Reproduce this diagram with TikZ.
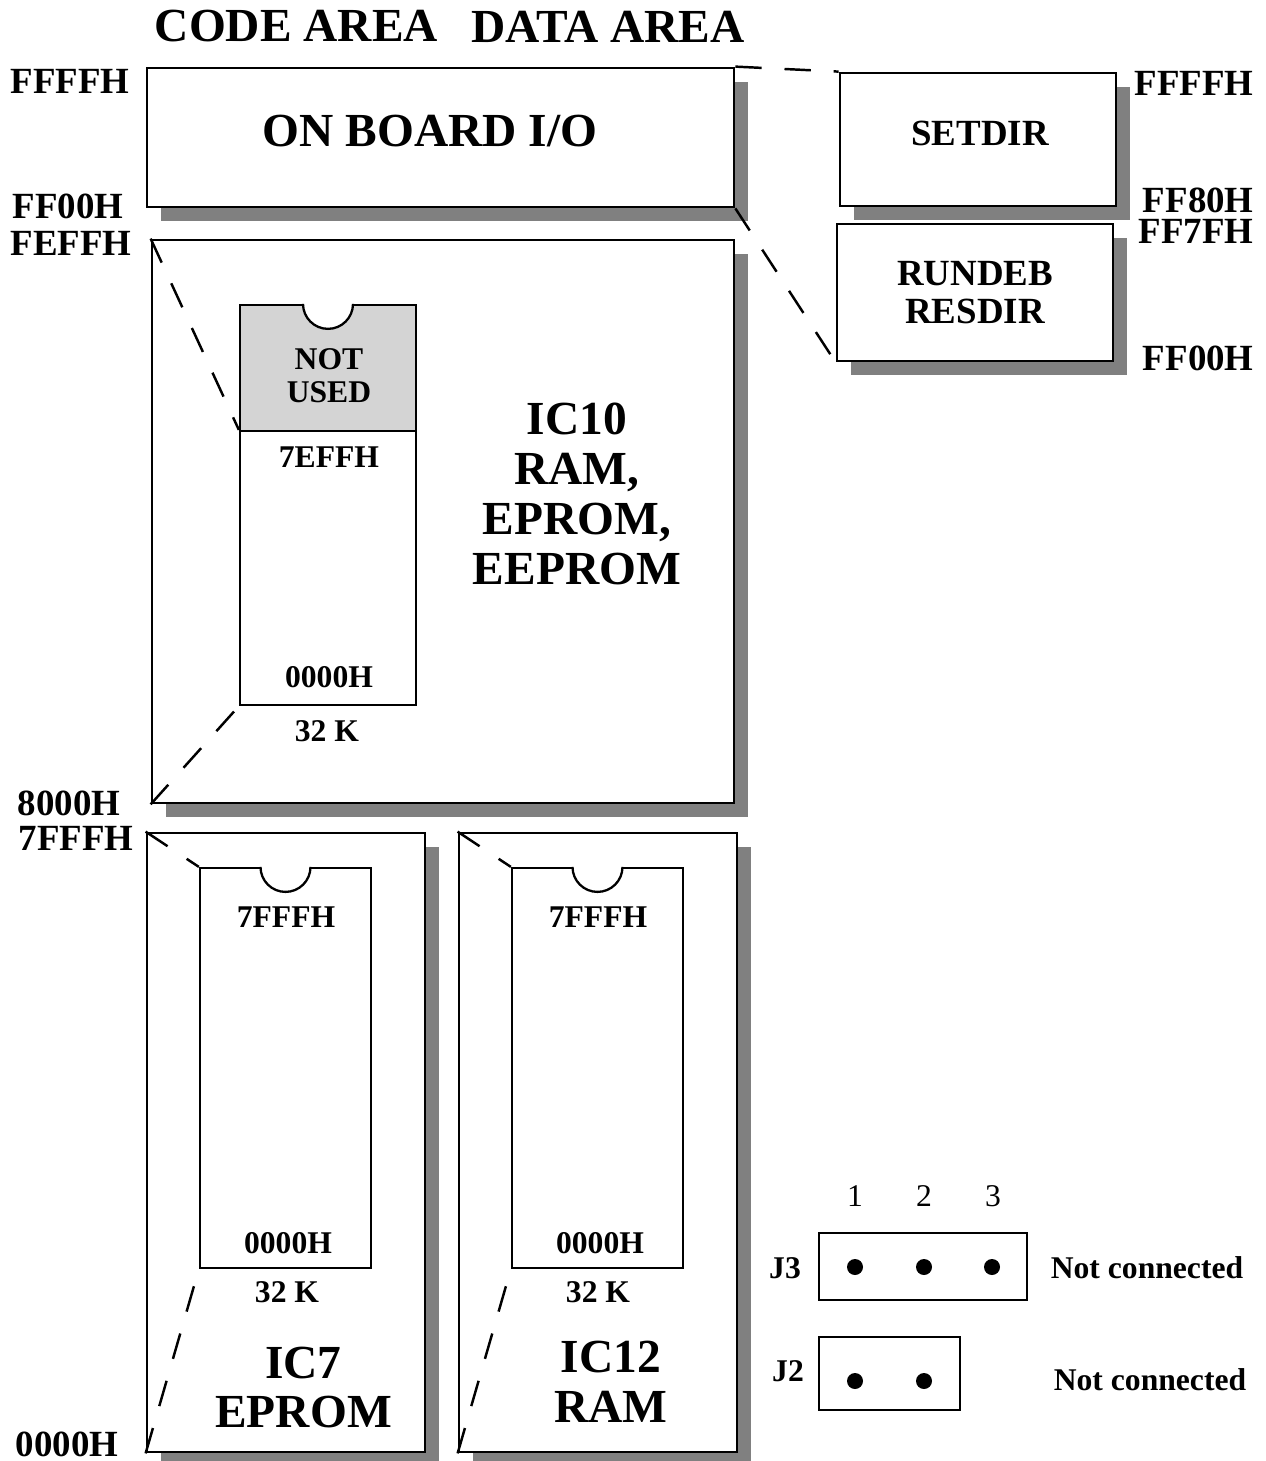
\documentclass[tikz,border=0pt]{standalone}
\usepackage{fontspec}
\setmainfont{Liberation Serif}
\usetikzlibrary{shadows}

\definecolor{notused}{gray}{0.83}

% half round notch at the top of a chip
\newcommand\chipnotch[1]{%
\fill[white] ([xshift=-0.5cm]#1.north) arc[start angle=180,end angle=360,radius=0.5cm] -- cycle;
\draw[line width=1.3pt] ([xshift=-0.5cm]#1.north) arc[start angle=180,end angle=360,radius=0.5cm];}

\begin{document}
\begin{tikzpicture}[
x=0.02cm, y=-0.02cm,
membox/.style={
draw,
line width=1.6pt,
fill=white,
inner sep=0pt,
drop shadow={shadow xshift=0.28cm, shadow yshift=-0.28cm, fill=gray, opacity=1}
},
chipbox/.style={
draw,
line width=1.3pt,
fill=white,
inner sep=0pt,
minimum width=3.42cm
},
jbox/.style={
draw,
line width=1.2pt,
inner sep=0pt
},
jdot/.style={
circle,
fill=black,
inner sep=0pt,
minimum size=0.32cm
},
link/.style={
line width=1.4pt,
dash pattern=on 15pt off 13pt
},
title/.style={inner sep=0pt, font=\bfseries\fontsize{27}{28.4}\selectfont, align=center},
addr/.style={inner sep=0pt, font=\bfseries\fontsize{21}{22}\selectfont},
lbl/.style={inner sep=0pt, font=\bfseries\fontsize{18}{18.7}\selectfont, align=center},
num/.style={inner sep=0pt, font=\fontsize{18}{20}\selectfont}
]
\useasboundingbox (0,0) rectangle (1266,1461);

% memory boxes
\node[membox, minimum width=11.74cm, minimum height=2.78cm] (io) at (440.5,137.5) {};
\node[membox, minimum width=5.52cm, minimum height=2.66cm] (setdir) at (978,139.5) {};
\node[membox, minimum width=5.52cm, minimum height=2.74cm, align=center,
font=\bfseries\fontsize{21}{22}\selectfont] (rundeb) at (975,292.5) {RUNDEB\\RESDIR};
\node[membox, minimum width=11.64cm, minimum height=11.26cm] (ic10) at (443,521.5) {};
\node[membox, minimum width=5.56cm, minimum height=12.38cm] (ic7) at (286,1142.5) {};
\node[membox, minimum width=5.56cm, minimum height=12.38cm] (ic12) at (598,1142.5) {};

% chips
\node[chipbox, minimum width=3.52cm, minimum height=2.52cm, fill=notused] (nu) at (328,368) {};
\node[chipbox, minimum width=3.52cm, minimum height=5.48cm] (chip10) at (328,568) {};
\node[chipbox, minimum height=8cm] (chip7) at (285.5,1068) {};
\node[chipbox, minimum height=8cm] (chip12) at (597.5,1068) {};
\chipnotch{nu}
\chipnotch{chip7}
\chipnotch{chip12}

% dashed links
\draw[link] (io.north east) -- (setdir.north west);
\draw[link] (io.south east) -- (rundeb.south west);
\draw[link] (ic10.north west) -- (chip10.north west);
\draw[link] (ic10.south west) -- (chip10.south west);
\draw[link] (ic7.north west) -- (chip7.north west);
\draw[link] (ic7.south west) -- (chip7.south west);
\draw[link] (ic12.north west) -- (chip12.north west);
\draw[link] (ic12.south west) -- (chip12.south west);

% titles
\node[title] (code) at (296.5,26.5) {CODE AREA};
\node[title] (data) at (608,26.5) {DATA AREA};
\node[title, anchor=base] (iolbl) at (430,146) {ON BOARD I/O};
\node[title] (ic10lbl) at (577,494) {IC10\\RAM,\\EPROM,\\EEPROM};
\node[title] (ic7lbl) at (303.5,1387.5) {IC7\\EPROM};
\node[title] (ic12lbl) at (611,1381.5) {IC12\\RAM};
\node[addr] (setlbl) at (980,133.5) {SETDIR};

% addresses
\node[addr, anchor=base] (a1) at (70,93) {FFFFH};
\node[addr, anchor=base] (a2) at (68,218) {FF00H};
\node[addr, anchor=base] (a3) at (71,255) {FEFFH};
\node[addr, anchor=base] (a4) at (69,815) {8000H};
\node[addr, anchor=base] (a5) at (76,850) {7FFFH};
\node[addr, anchor=base] (a6) at (67,1456) {0000H};
\node[addr, anchor=base east] (b1) at (1254,95) {FFFFH};
\node[addr, anchor=base east] (b2) at (1254,212) {FF80H};
\node[addr, anchor=base east] (b3) at (1254,243) {FF7FH};
\node[addr, anchor=base east] (b4) at (1254,370) {FF00H};

% chip labels
\node[lbl] (nulbl) at (329,375.5) {NOT\\USED};
\node[lbl] (top10) at (329,457) {7EFFH};
\node[lbl] (bot10) at (329,677) {0000H};
\node[lbl] (k10) at (327,731) {32 K};
\node[lbl] (top7) at (286,917) {7FFFH};
\node[lbl] (bot7) at (288,1243) {0000H};
\node[lbl] (k7) at (287,1292) {32 K};
\node[lbl] (top12) at (598,917) {7FFFH};
\node[lbl] (bot12) at (600,1243) {0000H};
\node[lbl] (k12) at (598,1292) {32 K};

% jumpers
\node[jbox, minimum width=4.16cm, minimum height=1.34cm] (j3) at (923,1266.5) {};
\node[jbox, minimum width=2.82cm, minimum height=1.46cm] (j2) at (889.5,1373.5) {};
\foreach \n/\x in {1/855,2/924,3/993}
\node[num] (n\n) at (\x,1196) {\n};
\foreach \x in {855,924,992}
\node[jdot] at (\x,1267) {};
\foreach \x in {855,924}
\node[jdot] at (\x,1381) {};
\node[lbl] (j3lbl) at (785,1268) {J3};
\node[lbl] (j2lbl) at (788,1371) {J2};
\node[lbl] (nc3) at (1147,1268) {Not connected};
\node[lbl] (nc2) at (1150,1380) {Not connected};

\end{tikzpicture}
\end{document}
